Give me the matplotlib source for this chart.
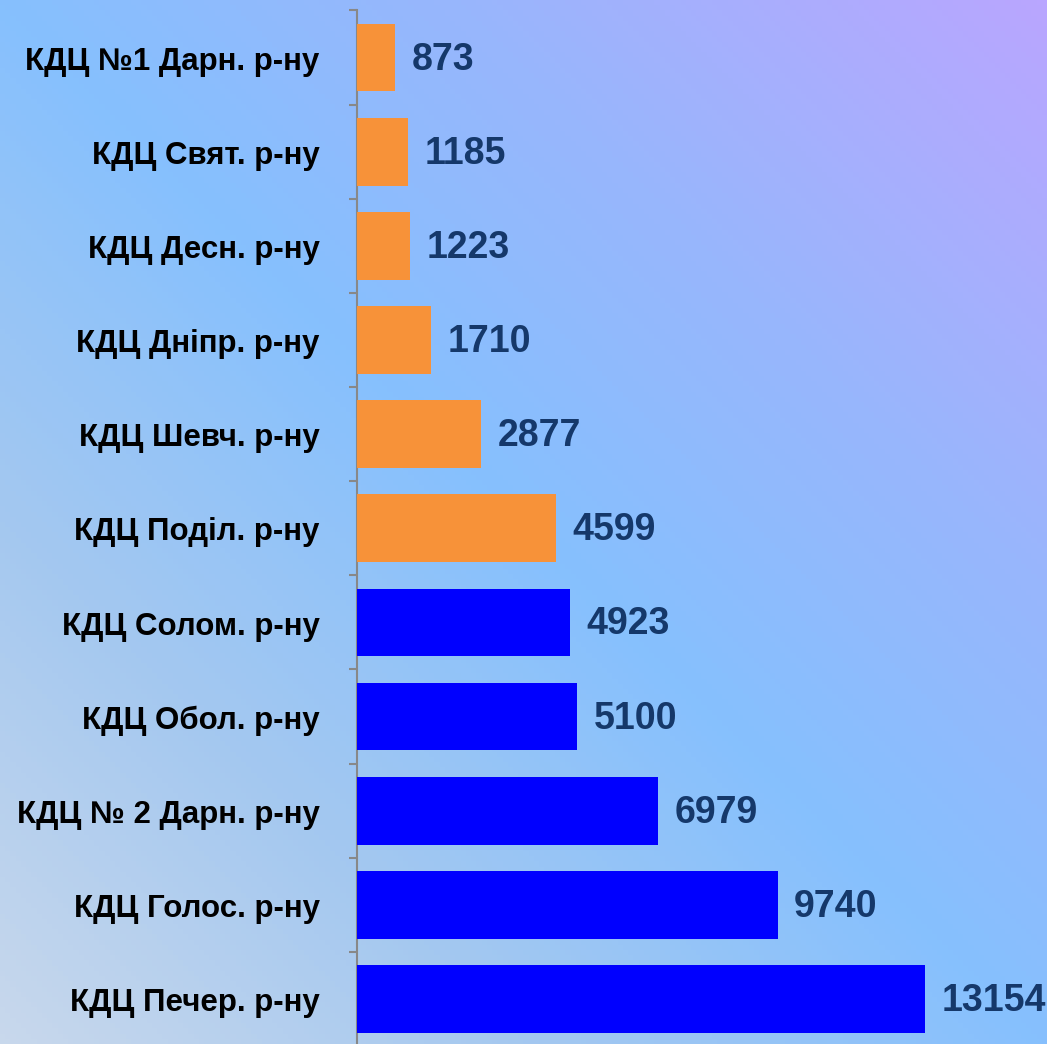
import numpy as np
import matplotlib.pyplot as plt
import matplotlib.transforms as mtransforms
from matplotlib.colors import LinearSegmentedColormap

# data (top to bottom as in the chart)
categories = [
    'КДЦ №1 Дарн. р-ну',
    'КДЦ Свят. р-ну',
    'КДЦ Десн. р-ну',
    'КДЦ Дніпр. р-ну',
    'КДЦ Шевч. р-ну',
    'КДЦ Поділ. р-ну',
    'КДЦ Солом. р-ну',
    'КДЦ Обол. р-ну',
    'КДЦ № 2 Дарн. р-ну',
    'КДЦ Голос. р-ну',
    'КДЦ Печер. р-ну',
]
values = [873, 1185, 1223, 1710, 2877, 4599, 4923, 5100, 6979, 9740, 13154]
bar_colors = ['#f79239'] * 6 + ['#0000ff'] * 5

plt.rcParams['font.family'] = ['Liberation Sans', 'DejaVu Sans']

fig = plt.figure(figsize=(10.47, 10.44), dpi=100)

# diagonal gradient background
bg = fig.add_axes([0, 0, 1, 1], zorder=-10)
bg.axis('off')
h, w = 200, 200
yy, xx = np.mgrid[0:h, 0:w]
t = (xx / (w - 1) + yy / (h - 1)) / 2  # 0 bottom-left, 1 top-right (origin lower)
grad_cmap = LinearSegmentedColormap.from_list('bg', [
    (0.0, '#c8d8ec'),
    (0.25, '#a4c8f0'),
    (0.5, '#86c0fe'),
    (0.72, '#98b6fc'),
    (1.0, '#b9a6ff'),
])
bg.imshow(t, cmap=grad_cmap, origin='lower', aspect='auto', extent=[0, 1, 0, 1])
bg.set_xlim(0, 1)
bg.set_ylim(0, 1)

ax = fig.add_axes([0.341, -0.002, 0.659, 0.992])
ax.patch.set_alpha(0)

n = len(categories)
pos = np.arange(n)
ax.barh(pos, values, height=0.72, color=bar_colors, zorder=3)
ax.set_ylim(n - 0.5, -0.5)
ax.set_xlim(0, 15980)

for p, v in zip(pos, values):
    ax.annotate(str(v), (v, p), xytext=(12, -1.5), textcoords='offset points',
                ha='left', va='center', fontsize=27, fontweight='bold',
                color='#15386a')

# ticks at category boundaries, labels at centers
ax.set_yticks(np.arange(-0.5, n, 1))
ax.set_yticklabels([])
ax.set_yticks(pos, minor=True)
ax.set_yticklabels(categories, minor=True, fontsize=22.5, fontweight='bold')
ax.tick_params(axis='y', which='major', length=6, width=1.5, color='#888888',
               direction='out')
ax.tick_params(axis='y', which='minor', length=0, pad=27)
shift = mtransforms.ScaledTranslation(0, -3 / 72, fig.dpi_scale_trans)
for lbl in ax.get_yticklabels(minor=True):
    lbl.set_va('center')
    lbl.set_transform(lbl.get_transform() + shift)

ax.set_xticks([])
for s in ['top', 'right', 'bottom']:
    ax.spines[s].set_visible(False)
ax.spines['left'].set_color('#888888')
ax.spines['left'].set_linewidth(1.5)

fig.savefig('out.png', dpi=100)
